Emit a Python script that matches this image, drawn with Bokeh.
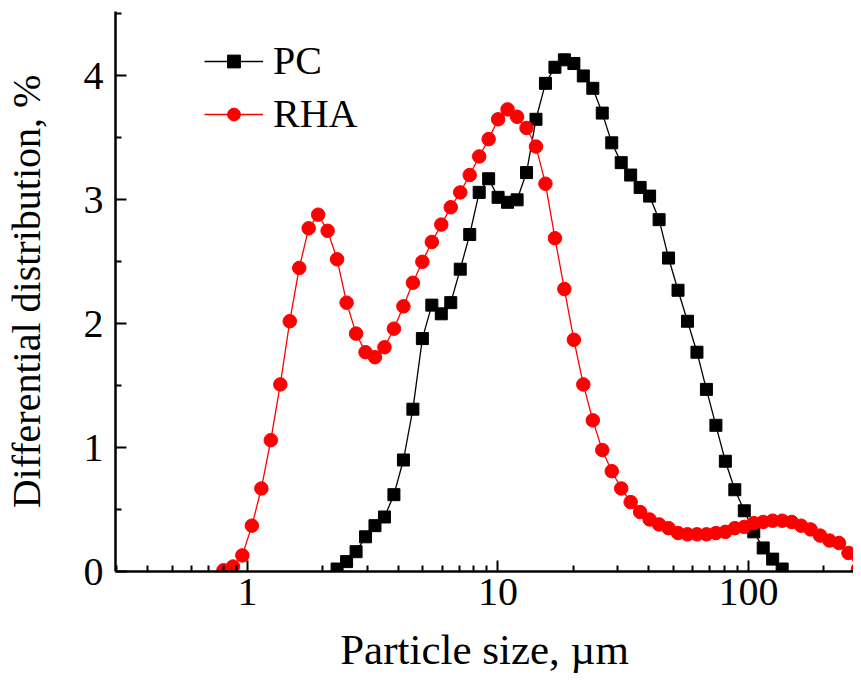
from bokeh.plotting import figure
from bokeh.models import (ColumnDataSource, Range1d, FixedTicker, Legend, LegendItem,
                          LogAxis, LinearAxis, LogScale)
from bokeh.embed import file_html
from bokeh.resources import INLINE

# Particle sizes (um)
size_um = [0.802, 0.875, 0.954, 1.041, 1.136, 1.239, 1.352, 1.475, 1.609, 1.755,
           1.915, 2.089, 2.279, 2.487, 2.713, 2.960, 3.228, 3.523, 3.842, 4.193,
           4.574, 4.990, 5.444, 5.939, 6.479, 7.069, 7.712, 8.414, 9.178, 10.01,
           10.92, 11.92, 13.00, 14.18, 15.47, 16.88, 18.41, 20.09, 21.91, 23.91,
           26.08, 28.46, 31.04, 33.86, 36.94, 40.30, 43.97, 47.97, 52.33, 57.09,
           62.28, 67.94, 74.12, 80.86, 88.21, 96.23, 105.0, 114.5, 124.9, 136.3,
           148.7, 162.2, 177.0, 193.1, 210.6, 229.8, 250.7, 273.5]

rha = [0.01, 0.04, 0.13, 0.37, 0.67, 1.06, 1.51, 2.02, 2.45, 2.77,
       2.88, 2.75, 2.52, 2.17, 1.92, 1.77, 1.73, 1.81, 1.96, 2.14,
       2.33, 2.50, 2.66, 2.80, 2.94, 3.06, 3.20, 3.35, 3.49, 3.65,
       3.73, 3.67, 3.58, 3.43, 3.13, 2.69, 2.28, 1.87, 1.51, 1.22,
       0.98, 0.81, 0.67, 0.56, 0.48, 0.42, 0.38, 0.35, 0.31, 0.30,
       0.30, 0.30, 0.31, 0.32, 0.35, 0.36, 0.39, 0.40, 0.41, 0.41,
       0.40, 0.37, 0.34, 0.29, 0.25, 0.23, 0.15, 0.02]

pc_size_um = size_um[12:60]
pc = [0.02, 0.08, 0.16, 0.28, 0.37, 0.44, 0.62, 0.90, 1.31, 1.88,
      2.15, 2.08, 2.17, 2.44, 2.72, 3.06, 3.17, 3.02, 2.98, 3.00,
      3.22, 3.65, 3.94, 4.07, 4.13, 4.10, 4.00, 3.90, 3.70, 3.46,
      3.30, 3.20, 3.10, 3.03, 2.84, 2.53, 2.27, 2.02, 1.77, 1.47,
      1.18, 0.89, 0.66, 0.49, 0.32, 0.19, 0.10, 0.02]

x_major = [1, 10, 100]
x_major_labels = {1: "1", 10: "10", 100: "100"}
x_minor = [0.3, 0.4, 0.5, 0.6, 0.7, 0.8, 0.9, 2, 3, 4, 5, 6, 7, 8, 9,
           20, 30, 40, 50, 60, 70, 80, 90, 200]
y_major = [0, 1, 2, 3, 4]
y_minor = [0.5, 1.5, 2.5, 3.5, 4.5]

FONT = "Liberation Serif"

p = figure(width=853, height=678, x_axis_type=None, y_axis_type=None,
           x_range=Range1d(0.2972, 262.6), y_range=Range1d(0, 4.52),
           output_backend="svg", toolbar_location=None,
           min_border_left=115, min_border_right=0, min_border_top=11,
           min_border_bottom=107)
p.x_scale = LogScale()
p.outline_line_color = None
p.background_fill_color = "white"
p.border_fill_color = "white"

xaxis = LogAxis(ticker=FixedTicker(ticks=x_major, minor_ticks=x_minor))
yaxis = LinearAxis(ticker=FixedTicker(ticks=y_major, minor_ticks=y_minor))
p.add_layout(xaxis, "below")
p.add_layout(yaxis, "left")

for ax in (xaxis, yaxis):
    ax.axis_line_width = 2.5
    ax.axis_line_color = "black"
    ax.major_tick_line_width = 2
    ax.minor_tick_line_width = 2
    ax.major_tick_in = 11
    ax.major_tick_out = 0
    ax.minor_tick_in = 6
    ax.minor_tick_out = 0
    ax.major_label_text_font = FONT
    ax.major_label_text_font_size = "40px"
    ax.major_label_text_color = "black"
    ax.axis_label_text_font = FONT
    ax.axis_label_text_font_style = "normal"
    ax.axis_label_text_color = "black"

xaxis.major_label_overrides = x_major_labels
xaxis.axis_label = "Particle size, \u00b5m"
xaxis.axis_label_text_font_size = "43px"
xaxis.major_label_standoff = 7
xaxis.axis_label_standoff = 18
yaxis.axis_label = "Differential distribution, %"
yaxis.axis_label_text_font_size = "40px"
yaxis.major_label_standoff = 12
yaxis.axis_label_standoff = 32

pc_src = ColumnDataSource(dict(x=pc_size_um, y=pc))
rha_src = ColumnDataSource(dict(x=size_um, y=rha))

pc_line = p.line("x", "y", source=pc_src, line_color="black", line_width=1.3)
rha_line = p.line("x", "y", source=rha_src, line_color="#ff0000", line_width=1.3)
pc_pts = p.scatter("x", "y", source=pc_src, marker="square", size=12,
                   fill_color="black", line_color="black")
rha_pts = p.scatter("x", "y", source=rha_src, marker="circle", size=13.5,
                    fill_color="#ff0000", line_color="#ff0000")

legend = Legend(items=[LegendItem(label="PC", renderers=[pc_line, pc_pts]),
                       LegendItem(label="RHA", renderers=[rha_line, rha_pts])],
                location=(89, 434), orientation="vertical",
                label_text_font=FONT, label_text_font_size="40px",
                label_text_color="black",
                glyph_width=59, glyph_height=32, label_standoff=10,
                label_height=46, spacing=6, padding=0, margin=0,
                border_line_color=None, background_fill_color=None,
                background_fill_alpha=0)
p.add_layout(legend, "center")

open("out.html", "w").write(file_html(p, INLINE))
